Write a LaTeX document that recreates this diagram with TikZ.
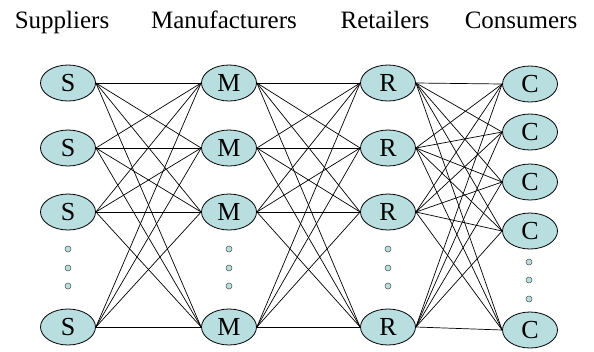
\documentclass[tikz,border=0pt]{standalone}
\usepackage{fontspec}
\setmainfont{Liberation Serif}
\usetikzlibrary{shapes.geometric}
\definecolor{nodefill}{RGB}{184,222,224}
\tikzset{
  ent/.style={ellipse, draw=black, line width=0.8pt, fill=nodefill, minimum width=55pt, minimum height=36pt, inner sep=0pt, font=\fontsize{26}{26}\selectfont},
  title/.style={anchor=base, inner sep=0pt, font=\fontsize{25}{25}\selectfont},
  dot/.style={circle, draw=black!70, line width=0.5pt, fill=nodefill, minimum size=6pt, inner sep=0pt},
  link/.style={draw=black, line width=0.7pt}
}
\begin{document}
\begin{tikzpicture}[x=1pt,y=-1pt]
\useasboundingbox (0,0) rectangle (594,351);
\node[title] (t1) at (62,28) {Suppliers};
\node[title] (t2) at (224,28) {Manufacturers};
\node[title] (t3) at (385,28) {Retailers};
\node[title] (t4) at (521,28) {Consumers};
% columns
\foreach \i/\y in {1/83,2/148,3/212,4/327}{
  \node[ent] (S\i) at (68,\y) {S};
  \node[ent] (M\i) at (229,\y) {M};
  \node[ent] (R\i) at (388,\y) {R};
}
\foreach \i/\y in {1/84,2/132,3/182,4/231,5/330}{
  \node[ent] (C\i) at (530,\y) {C};
}
% dots
\foreach \j/\y in {1/249,2/268,3/286}{
  \node[dot] (sd\j) at (68,\y) {};
  \node[dot] (md\j) at (229,\y) {};
  \node[dot] (rd\j) at (388,\y) {};
}
\foreach \j/\y in {1/262,2/280,3/299}{
  \node[dot] (cd\j) at (529,\y) {};
}
% links
\foreach \a in {1,...,4}{
  \foreach \b in {1,...,4}{
    \draw[link] (S\a.east) -- (M\b.west);
    \draw[link] (M\a.east) -- (R\b.west);
  }
  \foreach \b in {1,...,5}{
    \draw[link] (R\a.east) -- (C\b.west);
  }
}
\end{tikzpicture}
\end{document}
